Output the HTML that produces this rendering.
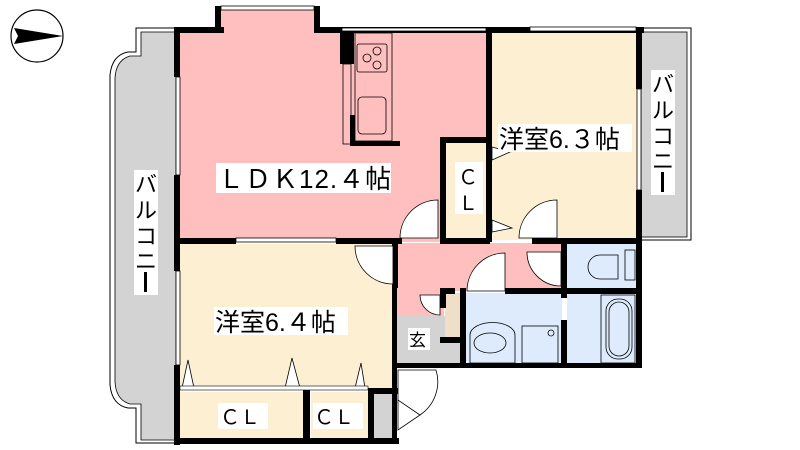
<!DOCTYPE html>
<html><head><meta charset="utf-8"><style>
html,body{margin:0;padding:0;background:#fff;width:800px;height:450px;overflow:hidden}
text{font-family:"Liberation Sans","Noto Sans CJK JP",sans-serif;fill:#000}
</style></head><body>
<svg width="800" height="450" viewBox="0 0 800 450" xmlns="http://www.w3.org/2000/svg">
<!-- compass -->
<circle cx="37" cy="36" r="26" fill="#fff" stroke="#000" stroke-width="1.2"/>
<polygon points="14,28 63,36 14,44 18,36" fill="#000"/>
<!-- left balcony -->
<path d="M176,28 L136,28 L136,52 L128,52 Q112,55 110,75 L110,385 Q112,405 128,408 L136,408 L136,443 L176,443 Z" fill="#fff" stroke="#000" stroke-width="1"/>
<path d="M176,32 L141,32 L141,56 L130,56 Q116,60 115,78 L115,382 Q116,400 130,404 L141,404 L141,440 L176,440 Z" fill="#d3d3d3" stroke="#000" stroke-width="0.8"/>
<rect x="134" y="170" width="24" height="125" fill="#fff"/>
<text x="146" y="192" font-size="22" text-anchor="middle">バ</text>
<text x="146" y="218" font-size="22" text-anchor="middle">ル</text>
<text x="146" y="244" font-size="22" text-anchor="middle">コ</text>
<text x="146" y="269" font-size="22" text-anchor="middle">ニ</text>
<rect x="144" y="272" width="3" height="20" fill="#000"/>
<!-- right balcony -->
<rect x="641" y="28" width="50" height="212" fill="#fff" stroke="#000" stroke-width="1"/>
<rect x="641" y="32" width="46" height="205" fill="#d3d3d3" stroke="#000" stroke-width="0.8"/>
<rect x="651" y="70" width="24" height="125" fill="#fff"/>
<text x="663" y="92" font-size="22" text-anchor="middle">バ</text>
<text x="663" y="118" font-size="22" text-anchor="middle">ル</text>
<text x="663" y="144" font-size="22" text-anchor="middle">コ</text>
<text x="663" y="169" font-size="22" text-anchor="middle">ニ</text>
<rect x="661" y="172" width="3" height="20" fill="#000"/>
<!-- room fills -->
<rect x="220" y="10" width="96" height="22" fill="#ffbfbf"/>
<rect x="178" y="32" width="310" height="210" fill="#ffbfbf"/>
<rect x="490" y="32" width="148" height="208" fill="#fdf0d2"/>
<rect x="446" y="142" width="42" height="96" fill="#fdf0d2"/>
<rect x="178" y="244" width="216" height="144" fill="#fdf0d2"/>
<rect x="180" y="392" width="124" height="46" fill="#fdf0d2"/>
<rect x="311" y="392" width="58" height="46" fill="#fdf0d2"/>
<rect x="372" y="393" width="20" height="45" fill="#d3d3d3"/>
<rect x="396" y="243" width="169" height="48" fill="#ffbfbf"/>
<rect x="396" y="243" width="48" height="74" fill="#ffbfbf"/>
<rect x="397" y="316" width="63" height="47" fill="#d3d3d3"/>
<rect x="445" y="293" width="15" height="45" fill="#efdfc7"/>
<rect x="567" y="243" width="70" height="46" fill="#ddebfd"/>
<rect x="466" y="293" width="96" height="70" fill="#ddebfd"/>
<rect x="567" y="293" width="70" height="70" fill="#ddebfd"/>
<!-- walls -->
<g fill="#000">
<rect x="174" y="27" width="50" height="6"/>
<rect x="215" y="6" width="6" height="27"/>
<rect x="314" y="6" width="6" height="27"/>
<rect x="314" y="27" width="330" height="6"/>
<rect x="174" y="27" width="6" height="50"/>
<rect x="174" y="175" width="6" height="96"/>
<rect x="174" y="365" width="6" height="80"/>
<rect x="174" y="438" width="225" height="6"/>
<rect x="636" y="27" width="6" height="62"/>
<rect x="636" y="190" width="6" height="178"/>
<rect x="486" y="30" width="6" height="212"/>
<rect x="440" y="137" width="52" height="6"/>
<rect x="440" y="137" width="6" height="105"/>
<rect x="174" y="238" width="62" height="6"/>
<rect x="336" y="238" width="62" height="6"/>
<rect x="394" y="238" width="8" height="6"/>
<rect x="440" y="238" width="50" height="6"/>
<rect x="532" y="238" width="110" height="6"/>
<rect x="392" y="238" width="6" height="50"/>
<rect x="392" y="238" width="5" height="206"/>
<rect x="392" y="238" width="5" height="6"/>
<rect x="303" y="388" width="7" height="52"/>
<rect x="368" y="388" width="6" height="52"/>
<rect x="368" y="388" width="30" height="6"/>
<rect x="561" y="238" width="6" height="60"/>
<rect x="561" y="320" width="6" height="47"/>
<rect x="440" y="288" width="15" height="6"/>
<rect x="505" y="288" width="137" height="6"/>
<rect x="440" y="288" width="6" height="20"/>
<rect x="440" y="337" width="24" height="6"/>
<rect x="460" y="288" width="6" height="80"/>
<rect x="397" y="363" width="60" height="5"/>
<rect x="457" y="363" width="185" height="5"/>
<rect x="340" y="32" width="14" height="32"/>
<rect x="350" y="115" width="5" height="30"/>
<rect x="350" y="141" width="50" height="5"/>
</g>
<!-- windows -->
<g stroke="#000" stroke-width="0.8" fill="#fff">
<rect x="221" y="6" width="93" height="4"/>
<rect x="176" y="77" width="4" height="98"/>
<rect x="176" y="271" width="4" height="94"/>
<rect x="236" y="238" width="100" height="4"/>
<rect x="342" y="28" width="144" height="3"/>
<rect x="530" y="27" width="106" height="4"/>
<rect x="637" y="89" width="4" height="101"/>
</g>
<!-- kitchen -->
<rect x="343" y="64" width="8" height="80" fill="none" stroke="#000" stroke-width="0.8"/>
<rect x="355" y="33" width="37" height="108" fill="#ffbfbf" stroke="#000" stroke-width="0.8"/>
<rect x="357" y="44" width="30" height="28" rx="2" fill="none" stroke="#000" stroke-width="0.8"/>
<circle cx="377" cy="51" r="4" fill="none" stroke="#000" stroke-width="0.8"/>
<circle cx="367" cy="58" r="4" fill="none" stroke="#000" stroke-width="0.8"/>
<circle cx="377" cy="65" r="4" fill="none" stroke="#000" stroke-width="0.8"/>
<rect x="358" y="97" width="28" height="37" rx="4" fill="none" stroke="#000" stroke-width="0.8"/>
<!-- doors -->
<g fill="#fff" stroke="#000" stroke-width="0.8">
<path d="M438,238 L438,200 A38,38 0 0 0 400,238 Z"/>
<path d="M557,238 L557,200 A38,38 0 0 0 519,238 Z"/>
<path d="M393,246 L355,246 A38,38 0 0 0 393,284 Z"/>
<path d="M505,291 L505,253 A38,38 0 0 0 467,291 Z"/>
<path d="M561,252 L527,252 A34,34 0 0 0 561,286 Z"/>
<path d="M440,295 L420,295 A20,20 0 0 0 440,315 Z"/>
<path d="M398,370 L398,403 L420,415 A40,40 0 0 0 436,370 Z"/>
<path d="M398,400 L398,430 L420,415 Z"/>
<polygon points="182,388 194,388 188,360"/>
<polygon points="285,388 300,388 292,358"/>
<polygon points="355,388 365,388 361,363"/>
<polygon points="492,147 510,152 492,160"/>
<polygon points="492,220 512,228 492,232"/>
</g>
<rect x="180" y="386" width="188" height="4" fill="#fff" stroke="#000" stroke-width="0.6"/>
<!-- toilet -->
<rect x="625" y="250" width="10" height="30" fill="none" stroke="#000" stroke-width="0.8"/>
<path d="M618,255 L600,255 A12,12 0 0 0 600,279 L618,279 Z" fill="none" stroke="#000" stroke-width="0.8"/>
<!-- wash -->
<path d="M470,335 A18,10 0 0 1 515,335 L515,363 L470,363 Z" fill="none" stroke="#000" stroke-width="0.8"/>
<ellipse cx="490" cy="343" rx="16" ry="10" fill="none" stroke="#000" stroke-width="0.8"/>
<rect x="522" y="326" width="36" height="37" fill="none" stroke="#000" stroke-width="0.8"/>
<circle cx="551" cy="333" r="3" fill="none" stroke="#000" stroke-width="0.8"/>
<!-- bath -->
<rect x="601" y="295" width="34" height="68" fill="none" stroke="#000" stroke-width="0.8"/>
<rect x="606" y="299" width="26" height="60" rx="12" fill="none" stroke="#000" stroke-width="0.8"/>
<rect x="609" y="302" width="20" height="54" rx="10" fill="none" stroke="#000" stroke-width="0.8"/>
<!-- labels -->
<rect x="216" y="163" width="175" height="30" fill="#fff"/>
<text x="218" y="188" font-size="26" letter-spacing="1">ＬＤＫ12.４帖</text>
<rect x="498" y="124" width="134" height="28" fill="#fff"/>
<text x="499" y="148" font-size="25">洋室6.３帖</text>
<rect x="214" y="307" width="134" height="28" fill="#fff"/>
<text x="215" y="331" font-size="25">洋室6.４帖</text>
<rect x="455" y="162" width="28" height="52" fill="#fff"/>
<text x="468" y="184" font-size="20" text-anchor="middle">Ｃ</text>
<text x="468" y="210" font-size="20" text-anchor="middle">Ｌ</text>
<rect x="218" y="403" width="50" height="26" fill="#fff"/>
<text x="220" y="424" font-size="20">ＣＬ</text>
<rect x="313" y="403" width="50" height="26" fill="#fff"/>
<text x="314" y="424" font-size="20">ＣＬ</text>
<rect x="408" y="328" width="22" height="22" fill="#fff"/>
<text x="409" y="346" font-size="17">玄</text>
</svg>
</body></html>
